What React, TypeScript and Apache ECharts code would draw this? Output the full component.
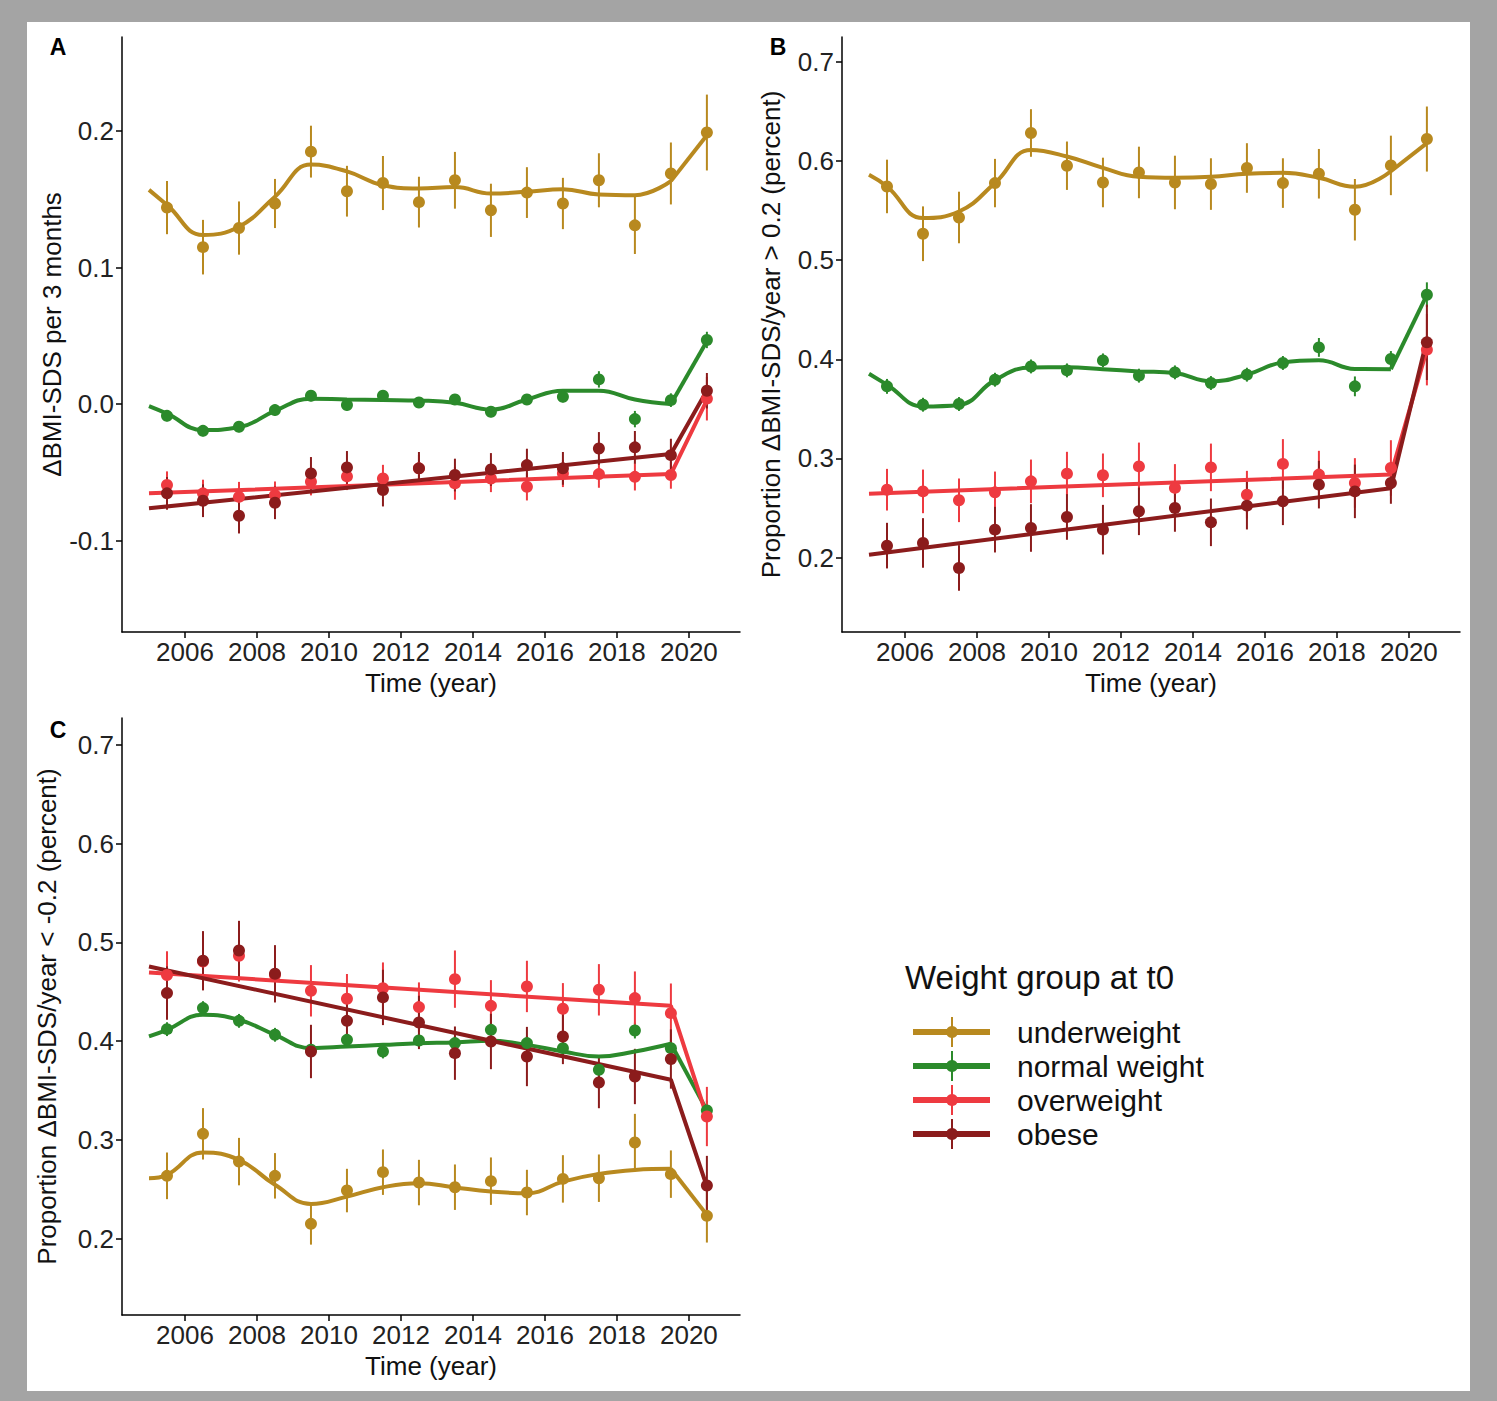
import React, { useEffect, useRef } from "react";
import * as echarts from "echarts";

// ---------- categories / axes ----------
const GROUPS = ["underweight", "normal weight", "overweight", "obese"];
const COLORS = ["#B8891F", "#2B8A2B", "#EE3A40", "#8B1C1C"];
const POINT_YEARS = [2005.5, 2006.5, 2007.5, 2008.5, 2009.5, 2010.5, 2011.5, 2012.5, 2013.5, 2014.5, 2015.5, 2016.5, 2017.5, 2018.5, 2019.5, 2020.5];
const FIT_YEARS = [2005, 2005.5, 2006.5, 2007.5, 2008.5, 2009.5, 2010.5, 2011.5, 2012.5, 2013.5, 2014.5, 2015.5, 2016.5, 2017.5, 2018.5, 2019.5];
const LINE_YEARS = [2005, 2019.5, 2020.5];
const END_YEAR = 2020.5;
const X_TICKS = [2006, 2008, 2010, 2012, 2014, 2016, 2018, 2020];
const Y_TICKS_A = [-0.1, 0.0, 0.1, 0.2];
const Y_TICKS_BC = [0.2, 0.3, 0.4, 0.5, 0.6, 0.7];

// ---------- Panel A ----------
const A_UW = [0.144, 0.115, 0.129, 0.147, 0.185, 0.156, 0.162, 0.148, 0.164, 0.142, 0.155, 0.147, 0.164, 0.131, 0.169, 0.199];
const A_UW_ERR = [0.0195, 0.02, 0.0195, 0.018, 0.019, 0.0186, 0.0198, 0.0186, 0.0208, 0.0195, 0.0186, 0.0188, 0.0198, 0.021, 0.0227, 0.0278];
const A_UW_FIT = [0.157, 0.146, 0.124, 0.13, 0.152, 0.1755, 0.1705, 0.1604, 0.158, 0.159, 0.1543, 0.1556, 0.1575, 0.1536, 0.1531, 0.1634];
const A_UW_END = 0.197;
const A_NW = [-0.0086, -0.0196, -0.0166, -0.0044, 0.0061, -0.0007, 0.0061, 0.0012, 0.0034, -0.0056, 0.0034, 0.0053, 0.0181, -0.011, 0.0029, 0.047];
const A_NW_ERR = [0.004, 0.004, 0.004, 0.004, 0.004, 0.004, 0.004, 0.004, 0.004, 0.004, 0.004, 0.004, 0.006, 0.006, 0.005, 0.006];
const A_NW_FIT = [-0.0015, -0.007, -0.019, -0.017, -0.005, 0.004, 0.0034, 0.003, 0.0026, 0.001, -0.004, 0.0034, 0.0098, 0.0098, 0.0034, 0.0];
const A_NW_END = 0.046;
const A_OW = [-0.0593, -0.0654, -0.068, -0.0667, -0.0569, -0.053, -0.0545, -0.0471, -0.0581, -0.0545, -0.0606, -0.0508, -0.0513, -0.0533, -0.052, 0.004];
const A_OW_ERR = [0.01, 0.01, 0.011, 0.01, 0.01, 0.01, 0.01, 0.01, 0.012, 0.01, 0.01, 0.01, 0.01, 0.01, 0.01, 0.016];
const A_OW_LINE = [-0.0654, -0.0513, 0.003];
const A_OB = [-0.0654, -0.0708, -0.0818, -0.0723, -0.0508, -0.0464, -0.063, -0.0471, -0.052, -0.0479, -0.0447, -0.0471, -0.0325, -0.0317, -0.0374, 0.0098];
const A_OB_ERR = [0.012, 0.012, 0.013, 0.012, 0.012, 0.012, 0.012, 0.012, 0.012, 0.012, 0.012, 0.012, 0.012, 0.012, 0.012, 0.013];
const A_OB_LINE = [-0.0764, -0.0366, 0.01];

// ---------- Panel B ----------
const B_UW = [0.5743, 0.5266, 0.543, 0.5777, 0.6282, 0.5952, 0.5783, 0.5884, 0.5783, 0.5767, 0.5929, 0.5777, 0.5871, 0.5508, 0.5955, 0.6221];
const B_UW_ERR = [0.027, 0.0276, 0.026, 0.0244, 0.024, 0.0244, 0.025, 0.026, 0.027, 0.026, 0.025, 0.025, 0.025, 0.031, 0.03, 0.0328];
const B_UW_FIT = [0.586, 0.5743, 0.5424, 0.549, 0.5777, 0.611, 0.6045, 0.593, 0.584, 0.583, 0.584, 0.587, 0.588, 0.583, 0.574, 0.5896];
const B_UW_END = 0.618;
const B_NW = [0.3727, 0.3542, 0.3549, 0.3794, 0.3928, 0.3888, 0.3989, 0.3835, 0.3868, 0.3761, 0.3845, 0.3963, 0.412, 0.3727, 0.4003, 0.4651];
const B_NW_ERR = [0.0075, 0.007, 0.007, 0.007, 0.007, 0.007, 0.007, 0.007, 0.007, 0.007, 0.007, 0.007, 0.0095, 0.01, 0.008, 0.0125];
const B_NW_FIT = [0.3855, 0.3744, 0.3525, 0.354, 0.379, 0.3918, 0.392, 0.39, 0.3878, 0.3861, 0.3777, 0.3845, 0.3969, 0.399, 0.3902, 0.39];
const B_NW_END = 0.465;
const B_OW = [0.2685, 0.2668, 0.2578, 0.2658, 0.2769, 0.2847, 0.283, 0.292, 0.2703, 0.291, 0.2635, 0.2945, 0.2837, 0.2753, 0.2904, 0.4097];
const B_OW_ERR = [0.021, 0.022, 0.022, 0.021, 0.022, 0.022, 0.022, 0.024, 0.024, 0.024, 0.024, 0.025, 0.024, 0.025, 0.028, 0.036];
const B_OW_LINE = [0.2645, 0.2837, 0.41];
const B_OB = [0.2121, 0.2148, 0.1896, 0.2282, 0.2299, 0.241, 0.2282, 0.2467, 0.2501, 0.2356, 0.2524, 0.2568, 0.2736, 0.2668, 0.2753, 0.4171];
const B_OB_ERR = [0.023, 0.025, 0.023, 0.023, 0.024, 0.023, 0.025, 0.024, 0.024, 0.024, 0.024, 0.024, 0.024, 0.027, 0.021, 0.038];
const B_OB_LINE = [0.203, 0.27, 0.42];

// ---------- Panel C ----------
const C_UW = [0.2638, 0.3063, 0.2782, 0.2638, 0.2152, 0.2489, 0.2675, 0.257, 0.2523, 0.2584, 0.2469, 0.2607, 0.2614, 0.2975, 0.2655, 0.2233];
const C_UW_ERR = [0.0236, 0.026, 0.024, 0.023, 0.021, 0.022, 0.023, 0.023, 0.023, 0.024, 0.023, 0.024, 0.024, 0.029, 0.024, 0.027];
const C_UW_FIT = [0.2614, 0.2648, 0.2874, 0.28, 0.2547, 0.2354, 0.2428, 0.2523, 0.2564, 0.252, 0.2479, 0.2462, 0.258, 0.2658, 0.2698, 0.2709];
const C_UW_END = 0.2243;
const C_NW = [0.4122, 0.4335, 0.4206, 0.4065, 0.3913, 0.4014, 0.3896, 0.4007, 0.3981, 0.4115, 0.3981, 0.393, 0.3711, 0.4108, 0.393, 0.33];
const C_NW_ERR = [0.007, 0.007, 0.007, 0.007, 0.007, 0.007, 0.007, 0.007, 0.007, 0.007, 0.007, 0.007, 0.008, 0.008, 0.008, 0.01];
const C_NW_FIT = [0.4048, 0.4115, 0.4267, 0.4217, 0.4065, 0.393, 0.3946, 0.3963, 0.398, 0.3987, 0.4004, 0.3963, 0.3896, 0.3845, 0.3896, 0.3974];
const C_NW_END = 0.33;
const C_OW = [0.467, 0.4807, 0.4864, 0.467, 0.451, 0.443, 0.4537, 0.4345, 0.4628, 0.4358, 0.4554, 0.4328, 0.452, 0.4436, 0.4284, 0.3238];
const C_OW_ERR = [0.024, 0.026, 0.026, 0.025, 0.026, 0.025, 0.026, 0.025, 0.029, 0.026, 0.026, 0.026, 0.026, 0.027, 0.03, 0.03];
const C_OW_LINE = [0.4696, 0.4358, 0.324];
const C_OB = [0.4487, 0.4814, 0.4918, 0.4682, 0.3896, 0.4206, 0.4443, 0.419, 0.3879, 0.3997, 0.3845, 0.4048, 0.3582, 0.3643, 0.382, 0.254];
const C_OB_ERR = [0.027, 0.03, 0.03, 0.029, 0.027, 0.027, 0.028, 0.027, 0.027, 0.028, 0.03, 0.028, 0.026, 0.028, 0.03, 0.03];
const C_OB_LINE = [0.4756, 0.361, 0.253];

const FONT = "'Liberation Sans', Arial, Helvetica, sans-serif";

type Panel = {
  mean: number[][];
  err: number[][];
  fit: (number[] | null)[];
  end: (number | null)[];
  line: (number[] | null)[];
};

const PANELS: Panel[] = [
  {
    mean: [A_UW, A_NW, A_OW, A_OB],
    err: [A_UW_ERR, A_NW_ERR, A_OW_ERR, A_OB_ERR],
    fit: [A_UW_FIT, A_NW_FIT, null, null],
    end: [A_UW_END, A_NW_END, null, null],
    line: [null, null, A_OW_LINE, A_OB_LINE],
  },
  {
    mean: [B_UW, B_NW, B_OW, B_OB],
    err: [B_UW_ERR, B_NW_ERR, B_OW_ERR, B_OB_ERR],
    fit: [B_UW_FIT, B_NW_FIT, null, null],
    end: [B_UW_END, B_NW_END, null, null],
    line: [null, null, B_OW_LINE, B_OB_LINE],
  },
  {
    mean: [C_UW, C_NW, C_OW, C_OB],
    err: [C_UW_ERR, C_NW_ERR, C_OW_ERR, C_OB_ERR],
    fit: [C_UW_FIT, C_NW_FIT, null, null],
    end: [C_UW_END, C_NW_END, null, null],
    line: [null, null, C_OW_LINE, C_OB_LINE],
  },
];

const GRIDS = [
  { left: 122, top: 37, width: 618, height: 595 },
  { left: 842, top: 37, width: 618, height: 595 },
  { left: 122, top: 718, width: 618, height: 597 },
];
const Y_RANGES = [
  [-0.167, 0.269],
  [0.125, 0.725],
  [0.123, 0.727],
];
const Y_TICKS = [Y_TICKS_A, Y_TICKS_BC, Y_TICKS_BC];
const Y_NAMES = [
  "ΔBMI-SDS per 3 months",
  "Proportion ΔBMI-SDS/year > 0.2 (percent)",
  "Proportion ΔBMI-SDS/year < -0.2 (percent)",
];
const Y_NAME_GAPS = [52, 58, 62];
const PANEL_LETTERS = ["A", "B", "C"];
const LETTER_POS = [
  [58, 47],
  [778, 47],
  [58, 730],
];

function buildOption() {
  const series: any[] = [];
  PANELS.forEach((p, pi) => {
    // error bars
    GROUPS.forEach((g, gi) => {
      const color = COLORS[gi];
      series.push({
        type: "custom",
        name: g,
        xAxisIndex: pi,
        yAxisIndex: pi,
        z: 2,
        silent: true,
        encode: { x: 0, y: [1, 2] },
        data: POINT_YEARS.map((x, i) => [x, p.mean[gi][i] - p.err[gi][i], p.mean[gi][i] + p.err[gi][i]]),
        renderItem: (params: any, api: any) => {
          const a = api.coord([api.value(0), api.value(1)]);
          const b = api.coord([api.value(0), api.value(2)]);
          return {
            type: "line",
            shape: { x1: a[0], y1: a[1], x2: b[0], y2: b[1] },
            style: { stroke: color, lineWidth: 2 },
          };
        },
      });
    });
    // trend lines
    GROUPS.forEach((g, gi) => {
      const color = COLORS[gi];
      const fit = p.fit[gi];
      if (fit) {
        series.push({
          type: "line",
          name: g,
          xAxisIndex: pi,
          yAxisIndex: pi,
          z: 3,
          silent: true,
          smooth: 0.45,
          showSymbol: false,
          lineStyle: { color, width: 4 },
          data: FIT_YEARS.map((x, i) => [x, fit[i]]),
        });
        series.push({
          type: "line",
          name: g,
          xAxisIndex: pi,
          yAxisIndex: pi,
          z: 3,
          silent: true,
          showSymbol: false,
          lineStyle: { color, width: 4 },
          data: [
            [FIT_YEARS[FIT_YEARS.length - 1], fit[fit.length - 1]],
            [END_YEAR, p.end[gi]],
          ],
        });
      } else {
        const ln = p.line[gi] as number[];
        series.push({
          type: "line",
          name: g,
          xAxisIndex: pi,
          yAxisIndex: pi,
          z: 3,
          silent: true,
          showSymbol: false,
          lineStyle: { color, width: 4 },
          data: LINE_YEARS.map((x, i) => [x, ln[i]]),
        });
      }
    });
    // points
    GROUPS.forEach((g, gi) => {
      series.push({
        type: "scatter",
        name: g,
        xAxisIndex: pi,
        yAxisIndex: pi,
        z: 4,
        silent: true,
        symbol: "circle",
        symbolSize: 12,
        itemStyle: { color: COLORS[gi], opacity: 1 },
        data: POINT_YEARS.map((x, i) => [x, p.mean[gi][i]]),
      });
    });
  });

  const axisLineStyle = { color: "#000", width: 1.5 };

  const xAxis = GRIDS.map((_, i) => ({
    type: "value",
    gridIndex: i,
    min: 2004.25,
    max: 2021.42,
    axisLine: { show: true, onZero: false, lineStyle: axisLineStyle },
    axisTick: { show: true, length: 6, lineStyle: axisLineStyle, customValues: X_TICKS },
    axisLabel: {
      customValues: X_TICKS,
      fontSize: 26,
      color: "#222",
      fontFamily: FONT,
      margin: 7,
      formatter: (v: number) => String(v),
    },
    splitLine: { show: false },
    name: "Time (year)",
    nameLocation: "middle",
    nameGap: 38,
    nameTextStyle: { fontSize: 26, color: "#111", fontFamily: FONT },
  }));

  const yAxis = GRIDS.map((_, i) => ({
    type: "value",
    gridIndex: i,
    min: Y_RANGES[i][0],
    max: Y_RANGES[i][1],
    axisLine: { show: true, onZero: false, lineStyle: axisLineStyle },
    axisTick: { show: true, length: 6, lineStyle: axisLineStyle, customValues: Y_TICKS[i] },
    axisLabel: {
      customValues: Y_TICKS[i],
      fontSize: 26,
      color: "#222",
      fontFamily: FONT,
      margin: 8,
      formatter: (v: number) => v.toFixed(1),
    },
    splitLine: { show: false },
    name: Y_NAMES[i],
    nameLocation: "middle",
    nameGap: Y_NAME_GAPS[i],
    nameTextStyle: { fontSize: 26, color: "#111", fontFamily: FONT },
  }));

  const legendX = 913;
  const legendTop = 1032;
  const rowStep = 34;
  const legendElems: any[] = [];
  GROUPS.forEach((g, gi) => {
    const y = legendTop + gi * rowStep;
    legendElems.push(
      { type: "line", shape: { x1: legendX, y1: y, x2: legendX + 77, y2: y }, style: { stroke: COLORS[gi], lineWidth: 6 } },
      { type: "line", shape: { x1: legendX + 39, y1: y - 15, x2: legendX + 39, y2: y + 15 }, style: { stroke: COLORS[gi], lineWidth: 2 } },
      { type: "circle", shape: { cx: legendX + 39, cy: y, r: 6 }, style: { fill: COLORS[gi] } },
      {
        type: "text",
        x: 1017,
        y: y,
        style: {
          text: g,
          fontSize: 30,
          fontFamily: FONT,
          fill: "#111",
          textAlign: "left",
          textVerticalAlign: "middle",
        },
      }
    );
  });

  const graphic: any[] = [
    { type: "rect", z: -10, shape: { x: 0, y: 0, width: 1497, height: 1401 }, style: { fill: "#a4a4a4" } },
    { type: "rect", z: -9, shape: { x: 27, y: 22, width: 1443, height: 1369 }, style: { fill: "#ffffff" } },
    ...PANEL_LETTERS.map((l, i) => ({
      type: "text",
      x: LETTER_POS[i][0],
      y: LETTER_POS[i][1],
      style: { text: l, fontSize: 23, fontWeight: "bold", fontFamily: FONT, fill: "#000", textAlign: "center", textVerticalAlign: "middle" },
    })),
    {
      type: "text",
      x: 905,
      y: 977,
      style: { text: "Weight group at t0", fontSize: 33, fontFamily: FONT, fill: "#111", textAlign: "left", textVerticalAlign: "middle" },
    },
    ...legendElems,
  ];

  return {
    animation: false,
    backgroundColor: "#a4a4a4",
    grid: GRIDS.map((g) => ({ ...g, containLabel: false })),
    xAxis,
    yAxis,
    series,
    graphic,
  };
}

export default function App() {
  const ref = useRef<HTMLDivElement>(null);
  useEffect(() => {
    if (!ref.current) return;
    const chart = echarts.init(ref.current, null, { renderer: "svg" });
    chart.setOption(buildOption() as any);
    return () => chart.dispose();
  }, []);
  return (
    <div
      ref={ref}
      style={{ position: "absolute", left: 0, top: 0, width: 1497, height: 1401 }}
    />
  );
}
